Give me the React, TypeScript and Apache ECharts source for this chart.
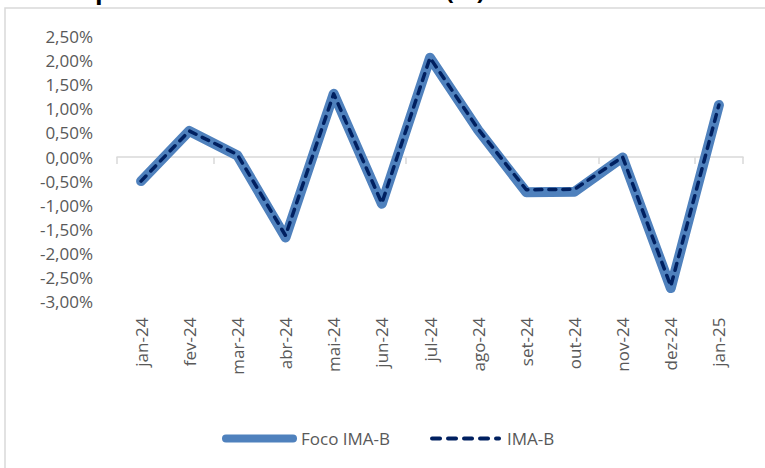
import React, { useEffect, useRef } from "react";
import * as echarts from "echarts";

const categories = ["jan-24", "fev-24", "mar-24", "abr-24", "mai-24", "jun-24", "jul-24", "ago-24", "set-24", "out-24", "nov-24", "dez-24", "jan-25"];
const focoImaB = [-0.5, 0.54, 0.03, -1.67, 1.31, -0.97, 2.06, 0.56, -0.73, -0.72, -0.01, -2.72, 1.08];
const imaB = [-0.5, 0.54, 0.05, -1.63, 1.31, -0.96, 2.06, 0.58, -0.68, -0.67, 0.0, -2.68, 1.08];
const seriesNames = ["Foco IMA-B", "IMA-B"];
const titleText = "Desempenho Foco IMA-B vs. IMA-B (%)";

const FONT = "Open Sans";
const TEXT = "#595959";

export default function App() {
  const ref = useRef<HTMLDivElement>(null);
  useEffect(() => {
    if (!ref.current) return;
    const chart = echarts.init(ref.current, null, { renderer: "svg" });
    const fmt = (v: number) => v.toFixed(2).replace(".", ",") + "%";
    chart.setOption({
      animation: false,
      backgroundColor: "#ffffff",
      textStyle: { fontFamily: FONT },
      graphic: [
        {
          type: "rect",
          shape: { x: 5, y: 8, width: 900, height: 600 },
          style: { fill: "none", stroke: "#d9d9d9", lineWidth: 1.5 },
          silent: true,
        },
        {
          type: "text",
          x: 10,
          y: 1,
          style: {
            text: titleText,
            font: `bold 25px ${FONT}`,
            fill: "#000000",
            verticalAlign: "bottom",
          },
        },
      ],
      legend: {
        left: 217,
        top: 425,
        itemWidth: 67,
        itemHeight: 14,
        itemGap: 40,
        itemStyle: { opacity: 0 },
        textStyle: { fontFamily: FONT, fontSize: 17, color: TEXT, padding: [0, 0, 0, 3] },
        data: [
          { name: seriesNames[0], lineStyle: { width: 8, color: "#4f81bd", cap: "round" } },
          { name: seriesNames[1], lineStyle: { width: 4, color: "#002060", type: [8, 8], cap: "round" } },
        ],
      },
      grid: { left: 117, right: 22, top: 36.5, bottom: 166.4 },
      xAxis: [
        {
          type: "category",
          data: categories,
          boundaryGap: true,
          axisLine: { onZero: true, lineStyle: { color: "#d9d9d9", width: 1.5 } },
          axisTick: { show: true, length: 7, lineStyle: { color: "#d9d9d9", width: 1.5 } },
          axisLabel: { show: false },
        },
        {
          type: "category",
          data: categories,
          position: "bottom",
          boundaryGap: true,
          axisLine: { show: false, onZero: false },
          axisTick: { show: false },
          axisLabel: {
            rotate: 90,
            margin: 16,
            fontFamily: FONT,
            fontSize: 17,
            color: TEXT,
            interval: 0,
          },
        },
      ],
      yAxis: {
        type: "value",
        min: -3,
        max: 2.5,
        interval: 0.5,
        axisLine: { show: false },
        axisTick: { show: false },
        splitLine: { show: false },
        axisLabel: {
          formatter: fmt,
          margin: 24,
          fontFamily: FONT,
          fontSize: 17,
          color: TEXT,
        },
      },
      series: [
        {
          name: seriesNames[0],
          type: "line",
          data: focoImaB,
          symbol: "none",
          color: "#4f81bd",
          lineStyle: { color: "#4f81bd", width: 10, cap: "round", join: "round" },
        },
        {
          name: seriesNames[1],
          type: "line",
          data: imaB,
          symbol: "none",
          color: "#002060",
          lineStyle: { color: "#002060", width: 3.5, type: [7, 7], cap: "round", join: "round" },
        },
      ],
    });
    return () => chart.dispose();
  }, []);
  return (
    <div
      ref={ref}
      style={{ position: "absolute", left: 0, top: 0, width: 765, height: 468 }}
    />
  );
}
